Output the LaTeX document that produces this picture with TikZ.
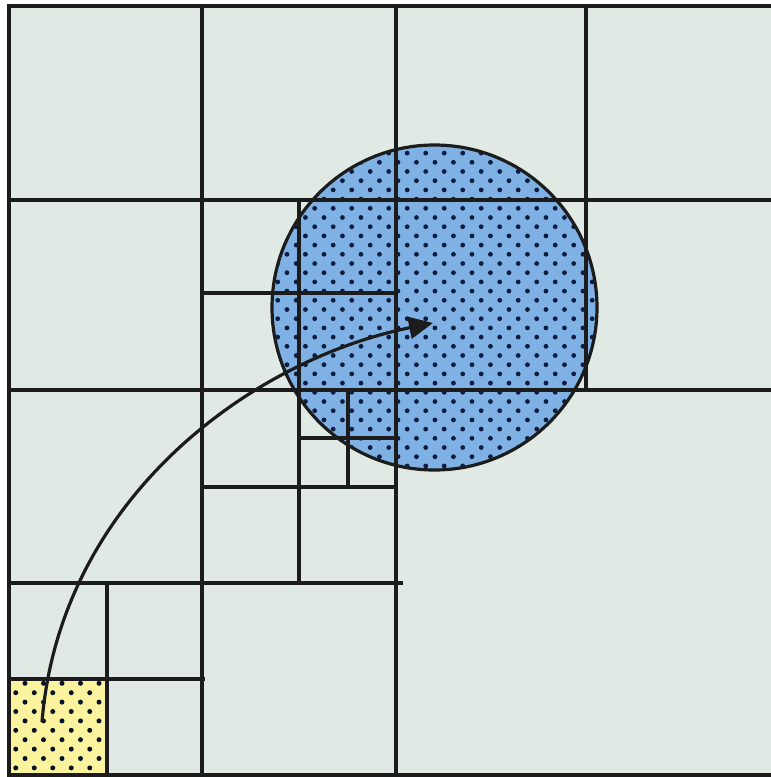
\documentclass[tikz,border=0pt]{standalone}
\usepackage{tikz}
\usetikzlibrary{arrows.meta,calc}
\definecolor{quadLightGreen}{RGB}{224, 233, 228}
\definecolor{quadBlue}{RGB}{128, 177, 229}
\definecolor{quadNavy}{RGB}{12, 30, 64}
\definecolor{quadYellow}{RGB}{251, 243, 158}
\definecolor{quadDark}{RGB}{28, 28, 28}

\begin{document}
\begin{tikzpicture}[
  x=1pt, y=-1pt,
  cell/.style={
    draw=quadDark,
    line width=3.2pt
  },
  border/.style={
    draw=quadDark,
    line width=3.6pt,
    fill=quadLightGreen
  },
  region/.style={
    draw=quadDark,
    line width=3.2pt,
    fill=quadBlue
  },
  dot/.style={fill=quadNavy},
  arrow/.style={-{Triangle[length=24pt,width=22pt]},line width=3.2pt,quadDark}
]
  \useasboundingbox (0,0) rectangle (771,777);
  \clip (0,0) rectangle (771,777);

  \path[border] (9,6) rectangle (784,775);

  % occupied leaf cell
  \fill[quadYellow] (9,679) rectangle (107,775);
  \begin{scope}
    \clip (9,679) rectangle (107,775);
    \foreach \k in {0,...,10}
      \foreach \j in {0,...,6}
        \fill[quadNavy!60!black] ({15.75+18.5*\j+9.25*(1-mod(\k,2))},{683.3+9.4*\k}) circle (2.5pt);
  \end{scope}

  % query region
  \path[fill=quadBlue] (434.5,307.5) circle (162.5);
  \begin{scope}
    \clip (434.5,307.5) circle (162.5);
    \foreach \k in {0,...,37}
      \foreach \j in {0,...,20}
        \fill[dot] ({240.7+18.5*\j+9.25*mod(\k,2)},{134.7+9.2*\k}) circle (2.4pt);
  \end{scope}

  % subdivisions
  \draw[cell] (202,6) -- (202,775);
  \draw[cell] (396,6) -- (396,775);
  \draw[cell] (586,6) -- (586,390);
  \draw[cell] (9,200) -- (784,200);
  \draw[cell] (9,390) -- (784,390);
  \draw[cell] (9,583) -- (403,583);
  \draw[cell] (299,200) -- (299,583);
  \draw[cell] (202,293) -- (396,293);
  \draw[cell] (202,487) -- (396,487);
  \draw[cell] (348,390) -- (348,487);
  \draw[cell] (299,438) -- (396,438);
  \draw[cell] (107,583) -- (107,775);
  \draw[cell] (9,679) -- (205,679);
  \draw[cell] (9,679) rectangle (107,775);

  \draw[region,fill=none] (434.5,307.5) circle (162.5);

  \coordinate (leaf) at (42,722);
  \coordinate (query) at (433,323);
  \draw[arrow] (leaf) .. controls (60,500) and (250,360) .. (query);
\end{tikzpicture}
\end{document}
